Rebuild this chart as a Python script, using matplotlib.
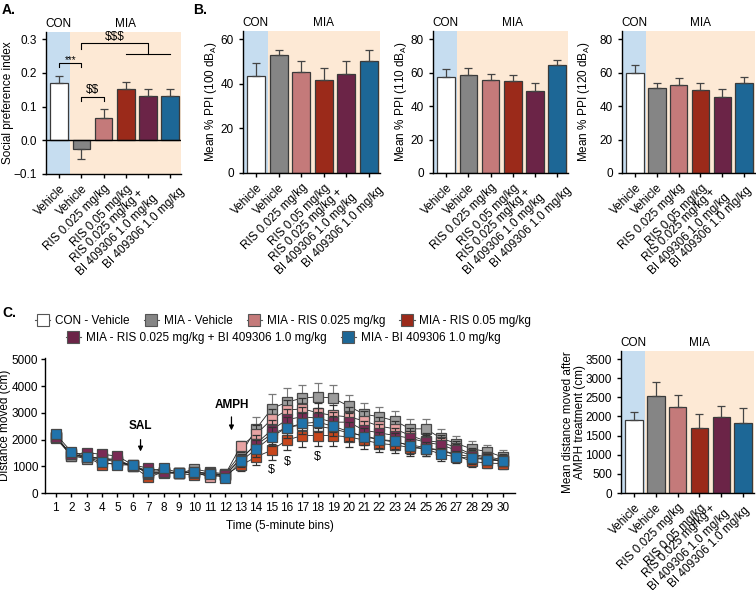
import matplotlib
matplotlib.use('Agg')
import matplotlib.pyplot as plt
import matplotlib.transforms as mtrans
import numpy as np
from matplotlib.lines import Line2D

plt.rcParams['font.family'] = ['Liberation Sans', 'DejaVu Sans']
plt.rcParams['font.size'] = 8
plt.rcParams['mathtext.fontset'] = 'custom'
plt.rcParams['mathtext.rm'] = 'Liberation Sans'
plt.rcParams['axes.linewidth'] = 1.0
plt.rcParams['xtick.major.size'] = 3
plt.rcParams['ytick.major.size'] = 3

# ---- data ----
groups = ['Vehicle', 'Vehicle', 'RIS 0.025 mg/kg', 'RIS 0.05 mg/kg',
          'RIS 0.025 mg/kg +\nBI 409306 1.0 mg/kg', 'BI 409306 1.0 mg/kg']
legend_names = ['CON - Vehicle', 'MIA - Vehicle', 'MIA - RIS 0.025 mg/kg',
                'MIA - RIS 0.05 mg/kg', 'MIA - RIS 0.025 mg/kg + BI 409306 1.0 mg/kg',
                'MIA - BI 409306 1.0 mg/kg']

social_mean = [0.170, -0.027, 0.065, 0.153, 0.132, 0.132]
social_sem = [0.020, 0.030, 0.027, 0.021, 0.020, 0.020]
ppi100_mean = [43.5, 52.8, 45.3, 41.8, 44.2, 50.1]
ppi100_sem = [5.6, 2.5, 5.0, 5.2, 6.0, 5.0]
ppi110_mean = [57.5, 58.8, 55.5, 55.0, 49.0, 64.5]
ppi110_sem = [4.5, 3.8, 3.5, 3.8, 4.5, 3.0]
ppi120_mean = [60.0, 51.0, 52.5, 49.5, 45.5, 53.5]
ppi120_sem = [4.3, 3.0, 4.0, 4.0, 4.7, 3.8]
amph_mean = [1900, 2530, 2250, 1700, 1990, 1840]
amph_sem = [220, 370, 320, 370, 280, 370]

time_bins = list(range(1, 31))
con_veh = [2050, 1400, 1350, 1300, 1200, 1000, 800, 780, 750, 800, 720, 680,
           1300, 1800, 2200, 2450, 2550, 2500, 2400, 2250, 2150, 2000, 1900, 1800,
           1700, 1600, 1450, 1350, 1250, 1200]
mia_veh = [2100, 1400, 1280, 1280, 1150, 1050, 720, 750, 730, 900, 780, 720,
           1450, 2400, 3150, 3400, 3550, 3600, 3550, 3250, 2950, 2850, 2700, 2400,
           2400, 2050, 1850, 1650, 1550, 1350]
ris025 = [2100, 1450, 1350, 1300, 1250, 1000, 760, 780, 760, 800, 580, 700,
          1750, 2200, 2750, 3100, 3150, 3000, 2900, 2850, 2700, 2500, 2400, 2150,
          1950, 1900, 1700, 1450, 1350, 1250]
ris05 = [2100, 1450, 1350, 1050, 1150, 1000, 580, 800, 740, 660, 720, 680,
         1030, 1350, 1600, 1980, 2150, 2150, 2150, 2100, 1980, 1850, 1800, 1700,
         1650, 1600, 1400, 1180, 1120, 1100]
ris_bi = [2100, 1450, 1500, 1450, 1380, 1050, 930, 800, 760, 760, 730, 680,
          1250, 1850, 2350, 2750, 2850, 2800, 2650, 2650, 2350, 2250, 2150, 2050,
          1900, 1800, 1600, 1400, 1300, 1200]
bi = [2200, 1550, 1350, 1150, 1050, 1050, 800, 930, 760, 780, 720, 560,
      1180, 1650, 2100, 2450, 2600, 2650, 2500, 2300, 2100, 2000, 1950, 1750,
      1650, 1450, 1350, 1300, 1250, 1200]

con_veh_sem = [100, 100, 100, 100, 100, 100, 80, 80, 80, 100, 80, 80,
               200, 300, 350, 350, 350, 350, 330, 300, 300, 280, 280, 250,
               250, 230, 220, 200, 200, 200]
mia_veh_sem = [120, 100, 100, 100, 100, 100, 80, 80, 80, 150, 100, 80,
               250, 450, 550, 520, 500, 500, 480, 420, 400, 380, 380, 350,
               350, 330, 300, 280, 250, 250]
ris025_sem = [100, 100, 100, 100, 100, 100, 80, 80, 80, 100, 80, 80,
              200, 350, 400, 380, 400, 380, 380, 350, 350, 330, 300, 300,
              280, 280, 250, 220, 200, 200]
ris05_sem = [100, 100, 100, 100, 100, 100, 80, 80, 80, 100, 80, 80,
             200, 300, 350, 380, 420, 400, 400, 380, 350, 330, 320, 300,
             280, 280, 250, 220, 200, 200]
ris_bi_sem = [100, 100, 100, 100, 100, 100, 80, 80, 80, 100, 80, 80,
              200, 320, 380, 380, 380, 380, 370, 350, 330, 320, 300, 280,
              270, 260, 240, 220, 200, 200]
bi_sem = [100, 100, 100, 100, 100, 100, 80, 80, 80, 100, 80, 80,
          200, 320, 360, 380, 380, 380, 370, 340, 320, 300, 300, 280,
          260, 250, 230, 210, 200, 190]

bar_colors = ['#ffffff', '#858585', '#c47a7a', '#9b2a1a', '#6b2447', '#1d6796']
line_face = ['#ffffff', '#9c9c9c', '#e8a3a3', '#c8461c', '#7a2a55', '#2073ab']
line_order = [1, 3, 4, 2, 5, 6]
con_bg = '#c6ddf0'
mia_bg = '#fde9d5'

fig = plt.figure(figsize=(7.56, 5.9), dpi=100)
W, H = 756.0, 590.0


def add_ax(l, r, t, b):
    return fig.add_axes([l / W, 1 - b / H, (r - l) / W, (b - t) / H])


def style(ax):
    ax.spines['top'].set_visible(False)
    ax.spines['right'].set_visible(False)
    ax.tick_params(labelsize=8.5, width=1, direction='out')


def shift(txt, dx, dy):
    txt.set_transform(txt.get_transform() +
                      mtrans.ScaledTranslation(dx / 100, dy / 100, fig.dpi_scale_trans))


def bar_panel(ax, means, sems, ylim, yticks, ylabel, label_x, last_dx=9, combo_dx=-6,
              combo_dy=0):
    x = np.arange(len(means))
    style(ax)
    ax.axvspan(-0.6, 0.5, color=con_bg, lw=0, zorder=0)
    ax.axvspan(0.5, 5.5, color=mia_bg, lw=0, zorder=0)
    ax.bar(x, means, 0.8, color=bar_colors, edgecolor='#3a3a3a', lw=0.9, zorder=2)
    for i, (m, s) in enumerate(zip(means, sems)):
        yerr = [[0], [s]] if m >= 0 else [[s], [0]]
        ax.errorbar(i, m, yerr=yerr, fmt='none', ecolor='#444444', elinewidth=0.9,
                    capsize=3, capthick=0.9, zorder=3)
    ax.set_xlim(-0.6, 5.5)
    ax.set_ylim(*ylim)
    ax.set_yticks(yticks)
    ax.set_xticks(x)
    labels = ax.set_xticklabels(groups, rotation=45, ha='right', rotation_mode='anchor',
                                fontsize=8.5, multialignment='center')
    shift(labels[4], combo_dx, combo_dy)
    shift(labels[5], last_dx, -3)
    ax.set_ylabel(ylabel, fontsize=8.5)
    ax.yaxis.set_label_coords(label_x, 0.5)
    ax.text(-0.05, 1.015, 'CON', transform=ax.get_xaxis_transform(), ha='center',
            va='bottom', fontsize=8.5)
    ax.text(3.0, 1.015, 'MIA', transform=ax.get_xaxis_transform(), ha='center',
            va='bottom', fontsize=8.5)


# ---- panel A ----
axA = add_ax(46, 181, 32, 174)
bar_panel(axA, social_mean, social_sem, (-0.1, 0.321), [-0.1, 0.0, 0.1, 0.2, 0.3],
          'Social preference index', -0.235)
axA.set_yticklabels(['\u22120.1', '0.0', '0.1', '0.2', '0.3'])
axA.axhline(0, color='black', lw=1.0, zorder=4)


def bracket(ax, x0, x1, y, yl0, yl1, label, ty, fs=8.5):
    ax.plot([x0, x0, x1, x1], [yl0, y, y, yl1], color='black', lw=0.8, zorder=5)
    ax.text((x0 + x1) / 2, ty, label, ha='center', va='center', fontsize=fs)


bracket(axA, 0, 1, 0.229, 0.216, 0.216, '***', 0.238, fs=7)
bracket(axA, 1, 2, 0.128, 0.116, 0.116, '\\$\\$', 0.148)
bracket(axA, 1, 4, 0.287, 0.272, 0.255, '\\$\\$\\$', 0.306)
axA.plot([3, 5], [0.255, 0.255], color='black', lw=0.8, zorder=5)

# ---- panel B ----
axB1 = add_ax(243, 380, 31, 173)
bar_panel(axB1, ppi100_mean, ppi100_sem, (0, 63.6), [0, 20, 40, 60],
          'Mean % PPI (100 dB$_\\mathregular{A}$)', -0.175)
axB2 = add_ax(433, 568, 31, 173)
bar_panel(axB2, ppi110_mean, ppi110_sem, (0, 84.8), [0, 20, 40, 60, 80],
          'Mean % PPI (110 dB$_\\mathregular{A}$)', -0.175)
axB3 = add_ax(622, 755, 31, 173)
bar_panel(axB3, ppi120_mean, ppi120_sem, (0, 84.8), [0, 20, 40, 60, 80],
          'Mean % PPI (120 dB$_\\mathregular{A}$)', -0.225, last_dx=1, combo_dx=-9)

# ---- panel C line ----
axC = add_ax(45, 515, 358, 493)
style(axC)
series = [con_veh, mia_veh, ris025, ris05, ris_bi, bi]
sems = [con_veh_sem, mia_veh_sem, ris025_sem, ris05_sem, ris_bi_sem, bi_sem]
for k, (vals, err) in enumerate(zip(series, sems)):
    ecol = '#7a7a7a' if k == 1 else '#333333'
    axC.errorbar(time_bins, vals, yerr=err, fmt='-s', color='#222222', lw=0.6,
                 markersize=7.5, markerfacecolor=line_face[k], markeredgecolor='#474747',
                 markeredgewidth=0.9, ecolor=ecol, elinewidth=0.8, capsize=3,
                 capthick=0.8, zorder=line_order[k])
axC.set_xlim(0.3, 30.8)
axC.set_ylim(0, 5050)
axC.set_xticks(time_bins)
axC.set_yticks([0, 1000, 2000, 3000, 4000, 5000])
axC.tick_params(axis='y', pad=2)
axC.set_xlabel('Time (5-minute bins)', fontsize=8.5, labelpad=4)
axC.set_ylabel('Distance moved (cm)', fontsize=8.5)
axC.yaxis.set_label_coords(-0.073, 0.5)

axC.annotate('', xy=(6.5, 1450), xytext=(6.5, 2100),
             arrowprops=dict(arrowstyle='-|>', color='black', lw=0.9, mutation_scale=7))
axC.text(6.5, 2500, 'SAL', ha='center', va='center', fontsize=8.5, weight='bold')
axC.annotate('', xy=(12.4, 2240), xytext=(12.4, 2950),
             arrowprops=dict(arrowstyle='-|>', color='black', lw=0.9, mutation_scale=7))
axC.text(12.4, 3300, 'AMPH', ha='center', va='center', fontsize=8.5, weight='bold')
for tx, ty in [(15, 860), (16, 1160), (18, 1340)]:
    axC.text(tx, ty, '\\$', ha='center', va='center', fontsize=9)

# legend
handles = [Line2D([], [], color='#555555', lw=0.8, marker='s', markersize=8,
                  markerfacecolor=c, markeredgecolor='#555555', markeredgewidth=0.8)
           for c in bar_colors]
leg_kw = dict(frameon=False, fontsize=8.5, handlelength=1.3, handletextpad=0.4,
              columnspacing=1.2, borderaxespad=0, borderpad=0)
fig.legend(handles[:4], legend_names[:4], loc='center', ncol=4,
           bbox_to_anchor=(283 / W, 1 - 321 / H), **leg_kw)
fig.legend(handles[4:], legend_names[4:], loc='center', ncol=2,
           bbox_to_anchor=(283 / W, 1 - 338 / H), **leg_kw)

# ---- panel C bars ----
axD = add_ax(621, 754, 351, 493)
bar_panel(axD, amph_mean, amph_sem, (0, 3709), list(range(0, 3501, 500)),
          'Mean distance moved after\nAMPH treatment (cm)', -0.265, last_dx=0,
          combo_dx=-8, combo_dy=4)
axD.yaxis.label.set_linespacing(1.0)

# panel letters
fig.text(2 / W, 1 - 3 / H, 'A.', fontsize=10, weight='bold', va='top')
fig.text(193 / W, 1 - 3 / H, 'B.', fontsize=10, weight='bold', va='top')
fig.text(2 / W, 1 - 306 / H, 'C.', fontsize=10, weight='bold', va='top')

fig.savefig('out.png', dpi=100)
